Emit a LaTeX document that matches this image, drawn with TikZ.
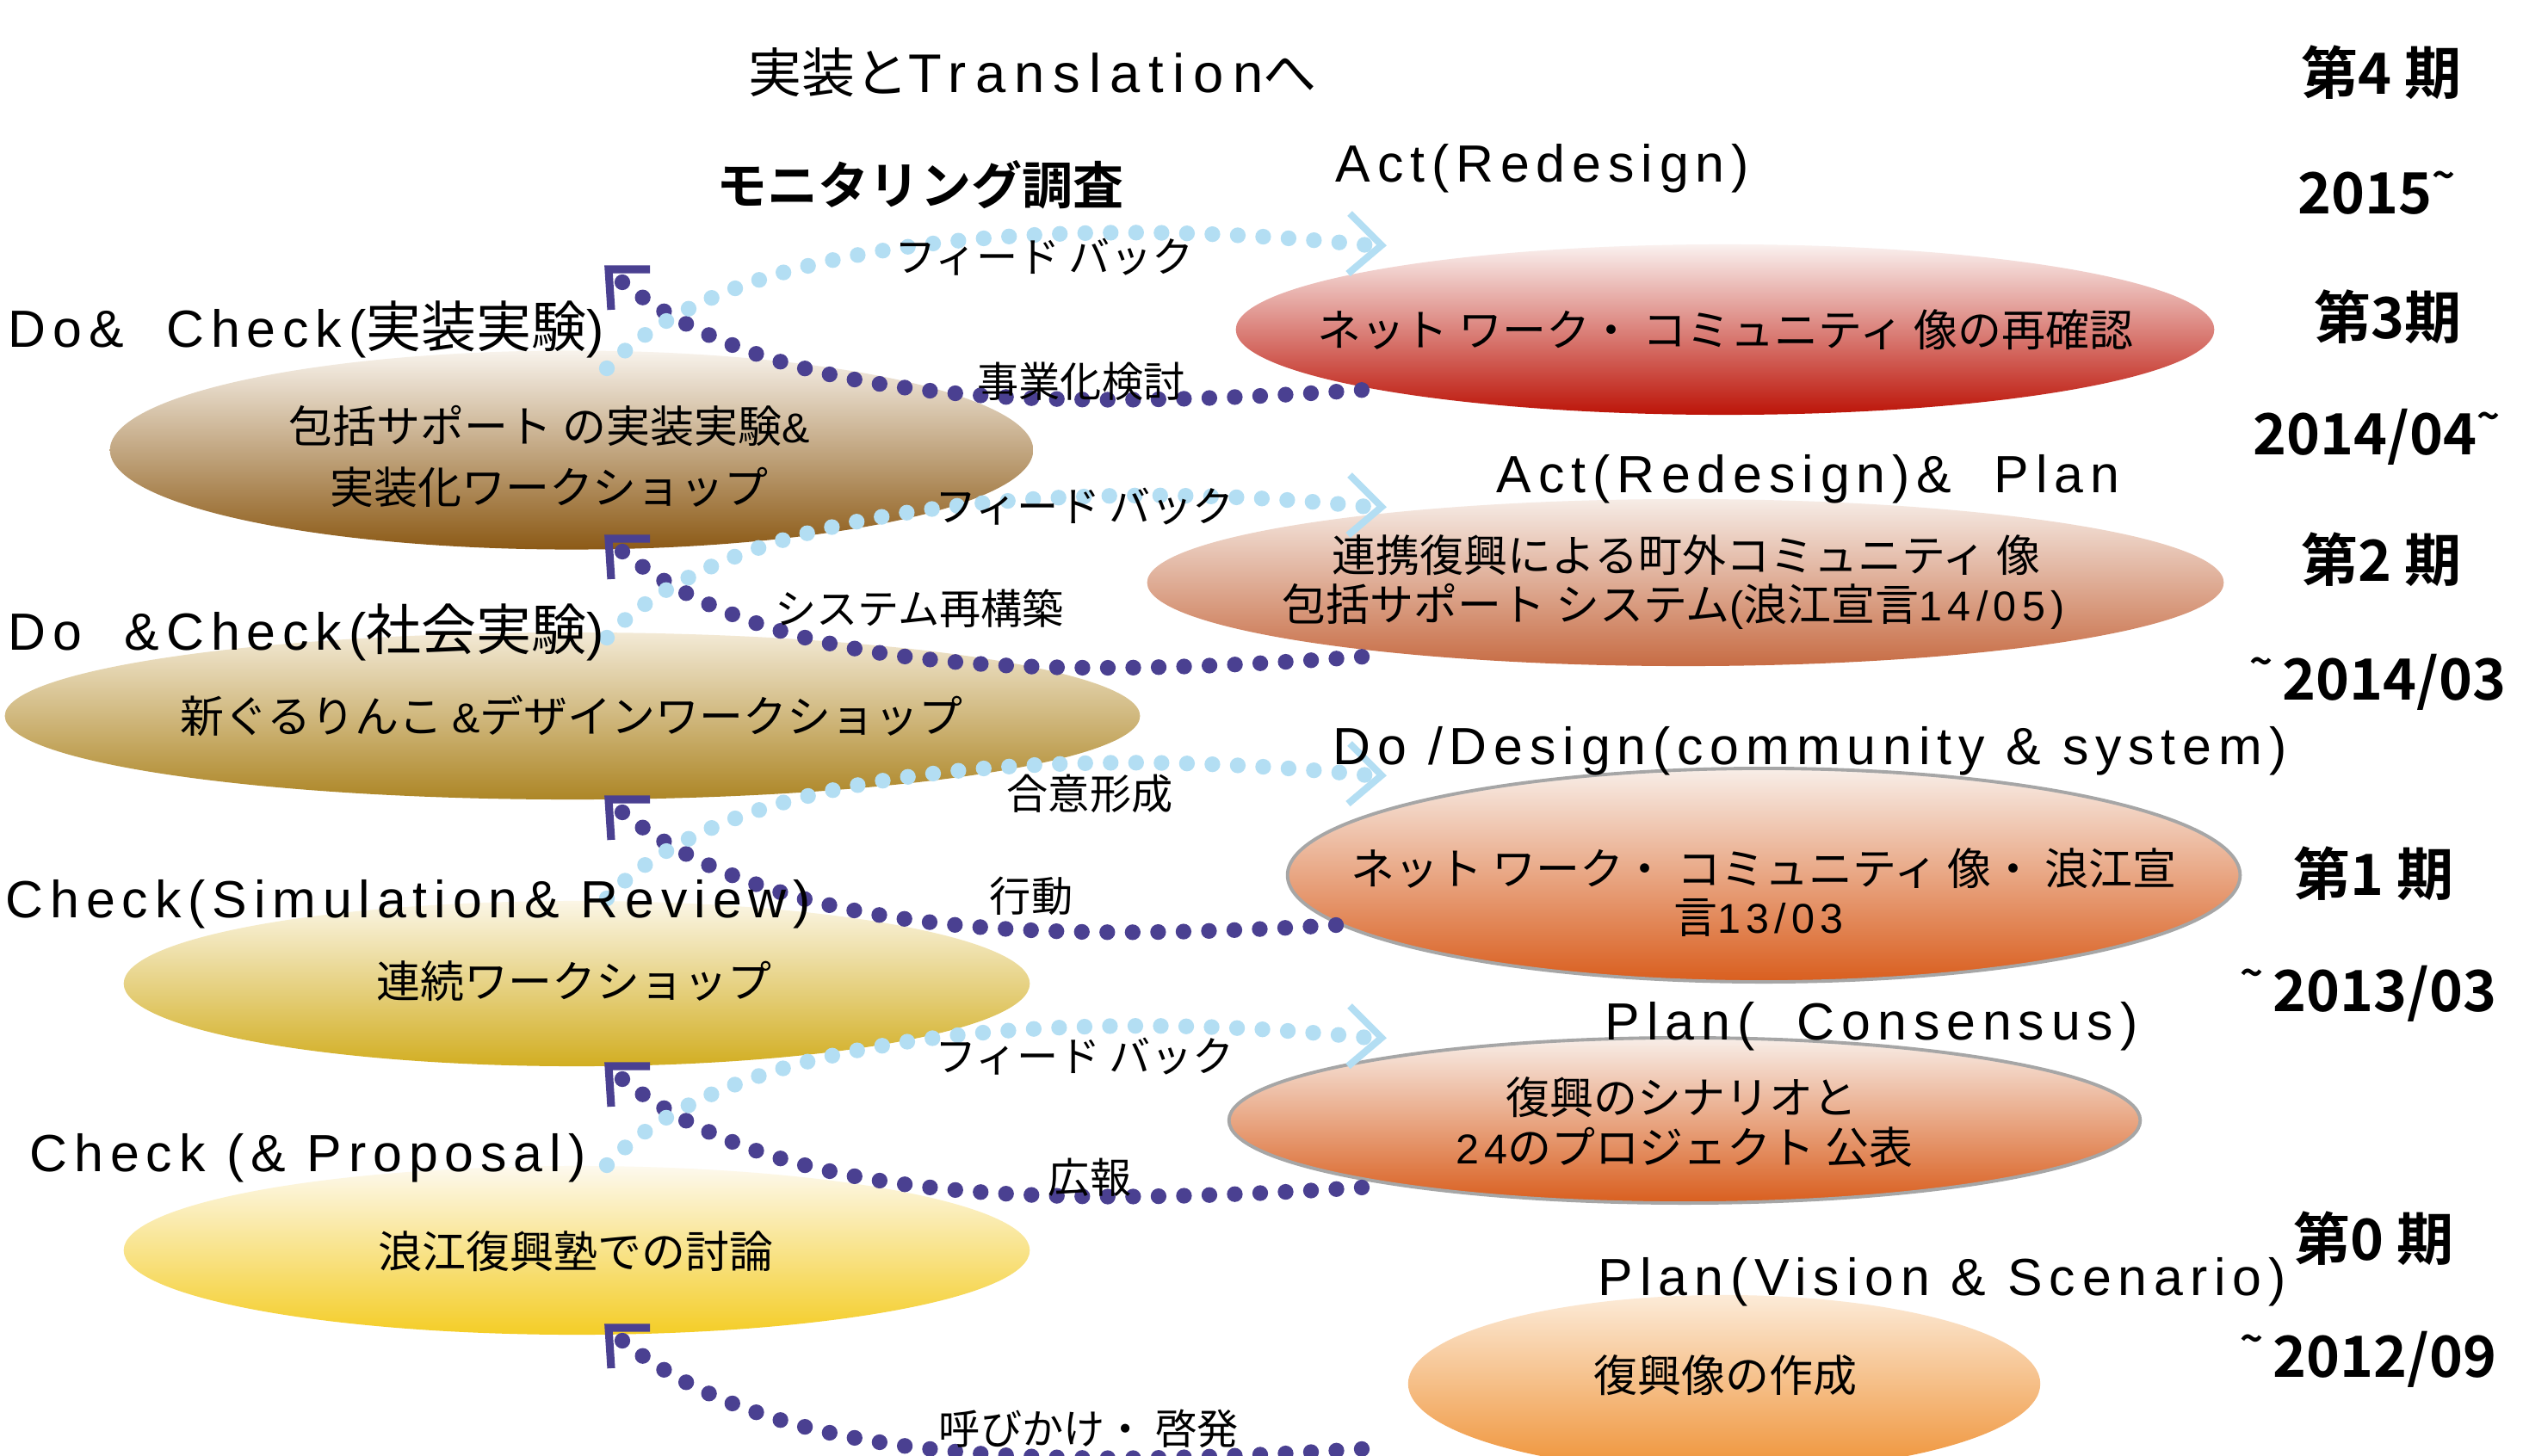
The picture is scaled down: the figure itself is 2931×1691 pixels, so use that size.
\documentclass[tikz,border=0pt]{standalone}
\usepackage{fontspec}
\setmainfont{Noto Sans CJK JP}[BoldFont={Noto Sans CJK JP Bold}]
\newfontfamily\latf[Scale=0.95,LetterSpace=13]{Liberation Sans}
\newfontfamily\latt[LetterSpace=16]{Liberation Sans}
\newcommand\lt[1]{{\latf #1}}
\newcommand\fs[1]{\fontsize{#1}{#1}\selectfont}
\newcommand\tld{\raisebox{0.42em}{\fontsize{13}{13}\selectfont\textasciitilde}}
\usetikzlibrary{shapes.geometric}
\definecolor{pcol}{HTML}{4A4091}
\definecolor{bcol}{HTML}{B3DEF3}
\newcommand\conn[5]{%
 \coordinate (k#1) at (707,{#2});
 \draw[brk] (755,{#2}) -- (k#1) -- (710,{#2+47});
 \coordinate (ps#1) at (723,{#2+15});
 \coordinate (pe#1) at (#4,{#5});
 \draw[pdots] (ps#1) .. controls (900,{#2+157}) and (1200,{#2+167}) .. (pe#1);
}
\newcommand\fb[3]{%
 \coordinate (bs#1) at (705,{#2+115});
 \coordinate (be#1) at (1590,{#3});
 \draw[bdots] (bs#1) .. controls (850,{#2-43}) and (1250,{#3-35}) .. (be#1);
 \draw[chev] (1568,{#3-37}) -- (1605,{#3}) -- (1566,{#3+33});
}
\begin{document}
\begin{tikzpicture}[x=0.01cm,y=-0.01cm,
 blob/.style={ellipse, inner sep=0pt, outer sep=0pt},
 graybd/.style={draw=black!35, line width=1.1pt},
 txt/.style={inner sep=0pt, font=\fs{14.5}},
 lbl/.style={inner sep=0pt, anchor=west, font=\fs{18.2}},
 per/.style={inner sep=0pt, anchor=west, font=\fs{18.8}\bfseries},
 cl/.style={inner sep=0pt, font=\fs{13.7}},
 pdots/.style={draw=pcol, line width=5.2pt, line cap=round, dash pattern=on 0pt off 8.4pt},
 bdots/.style={draw=bcol, line width=5.2pt, line cap=round, dash pattern=on 0pt off 8.4pt},
 brk/.style={draw=pcol, line width=2.6pt},
 chev/.style={draw=bcol, line width=2.3pt}]
\clip (0,0) rectangle (2931,1691);
\fill[white] (0,0) rectangle (2931,1691);
% left ellipses
\node[blob, minimum width=10.72cm, minimum height=2.31cm, top color={rgb,255:red,248;green,243;blue,236}, bottom color={rgb,255:red,140;green,90;blue,22}] (e1) at (664,523) {};
\node[blob, minimum width=13.18cm, minimum height=1.94cm, top color={rgb,255:red,243;green,234;blue,214}, bottom color={rgb,255:red,173;green,134;blue,38}] (e2) at (665,832) {};
\node[blob, minimum width=10.52cm, minimum height=1.92cm, top color={rgb,255:red,251;green,246;blue,230}, bottom color={rgb,255:red,210;green,174;blue,34}] (e3) at (670,1143) {};
\node[blob, minimum width=10.52cm, minimum height=1.96cm, top color={rgb,255:red,253;green,249;blue,238}, bottom color={rgb,255:red,244;green,205;blue,38}] (e4) at (670,1453) {};
% right ellipses
\node[blob, minimum width=11.36cm, minimum height=1.98cm, top color={rgb,255:red,250;green,241;blue,239}, bottom color={rgb,255:red,188;green,20;blue,8}] (eA) at (2004,383) {};
\node[blob, minimum width=12.50cm, minimum height=1.94cm, top color={rgb,255:red,246;green,236;blue,230}, bottom color={rgb,255:red,199;green,108;blue,68}] (eB) at (1958,677) {};
\node[blob, graybd, minimum width=11.06cm, minimum height=2.48cm, top color={rgb,255:red,248;green,238;blue,232}, bottom color={rgb,255:red,217;green,94;blue,30}] (eC) at (2049,1017) {};
\node[blob, graybd, minimum width=10.58cm, minimum height=1.92cm, top color={rgb,255:red,248;green,238;blue,232}, bottom color={rgb,255:red,217;green,94;blue,30}] (eD) at (1957,1302) {};
\node[blob, minimum width=7.34cm, minimum height=2.06cm, top color={rgb,255:red,252;green,235;blue,216}, bottom color={rgb,255:red,239;green,146;blue,54}] (eE) at (2003,1608) {};
% connectors
\conn{1}{313}{}{1600}{452}
\conn{2}{626}{}{1611}{761}
\conn{3}{929}{}{1552}{1075}
\conn{4}{1239}{}{1611}{1378}
\conn{5}{1543}{}{1611}{1682}
\fb{1}{313}{285}
\fb{2}{626}{589}
\fb{3}{929}{901}
\fb{4}{1239}{1206}
% ellipse texts
\node[txt] (x1a) at (638,495) {包括サポート の実装実験\lt{\&}};
\node[txt] (x1b) at (638,566) {実装化ワークショップ};
\node[txt] (x2) at (664,832) {新ぐるりんこ \lt{\&}デザインワークショップ};
\node[txt] (x3) at (667,1140) {連続ワークショップ};
\node[txt] (x4) at (669,1454) {浪江復興塾での討論};
\node[txt] (xA) at (2004,383) {ネット ワーク・ コミュニティ 像の再確認};
\node[txt] (xBa) at (1959,645) {連携復興による町外コミュニティ 像};
\node[txt] (xBb) at (1944,705) {包括サポート システム\lt{(}浪江宣言\lt{14/05)}};
\node[txt] (xCa) at (2049,1009) {ネット ワーク・ コミュニティ 像・ 浪江宣};
\node[txt] (xCb) at (2043,1066) {言\lt{13/03}};
\node[txt] (xDa) at (1953,1275) {復興のシナリオと};
\node[txt] (xDb) at (1957,1333) {\lt{24}のプロジェクト 公表};
\node[txt] (xE) at (2004,1598) {復興像の作成};
% labels
\node[inner sep=0pt, anchor=west, font=\fs{17.6}] (title) at (869,84) {実装と{\latt\fs{18}Translation}へ};
\node[inner sep=0pt, anchor=west, font=\fs{16.8}\bfseries] (mon) at (832,215) {モニタリング調査};
\node[lbl] (l1) at (9,383) {\lt{Do\&~ Check(}実装実験\lt{)}};
\node[lbl] (l2) at (9,735) {\lt{Do~ \&Check(}社会実験\lt{)}};
\node[lbl] (l3) at (6,1051) {\lt{Check(Simulation\& Review)}};
\node[lbl] (l4) at (34,1346) {\lt{Check (\& Proposal)}};
\node[lbl] (r1) at (1551,196) {\lt{Act(Redesign)}};
\node[lbl] (r2) at (1738,557) {\lt{Act(Redesign)\&~ Plan}};
\node[lbl] (r3) at (1548,873) {\lt{Do /Design(community \& system)}};
\node[lbl] (r4) at (1864,1193) {\lt{Plan(~ Consensus)}};
\node[lbl] (r5) at (1856,1490) {\lt{Plan(Vision \& Scenario)}};
% connector labels
\node[cl] (t1) at (1213,299) {フィード バック};
\node[cl] (t2) at (1256,443) {事業化検討};
\node[cl] (t3) at (1260,589) {フィード バック};
\node[cl] (t4) at (1068,707) {システム再構築};
\node[cl] (t5) at (1266,922) {合意形成};
\node[cl] (t6) at (1198,1041) {行動};
\node[cl] (t7) at (1260,1228) {フィード バック};
\node[cl] (t8) at (1266,1368) {広報};
\node[cl] (t9) at (1265,1660) {呼びかけ・ 啓発};
% periods
\node[per] (q4) at (2673,84) {第4 期};
\node[per] (d4) at (2669,224) {2015\tld};
\node[per] (q3) at (2688,368) {第3期};
\node[per] (d3) at (2617,508) {2014/04\tld};
\node[per] (q2) at (2673,650) {第2 期};
\node[per] (d2) at (2613,793) {\tld\,2014/03};
\node[per] (q1) at (2664,1015) {第1 期};
\node[per] (d1) at (2602,1155) {\tld\,2013/03};
\node[per] (q0) at (2664,1439) {第0 期};
\node[per] (d0) at (2602,1580) {\tld\,2012/09};
\end{tikzpicture}
\end{document}
